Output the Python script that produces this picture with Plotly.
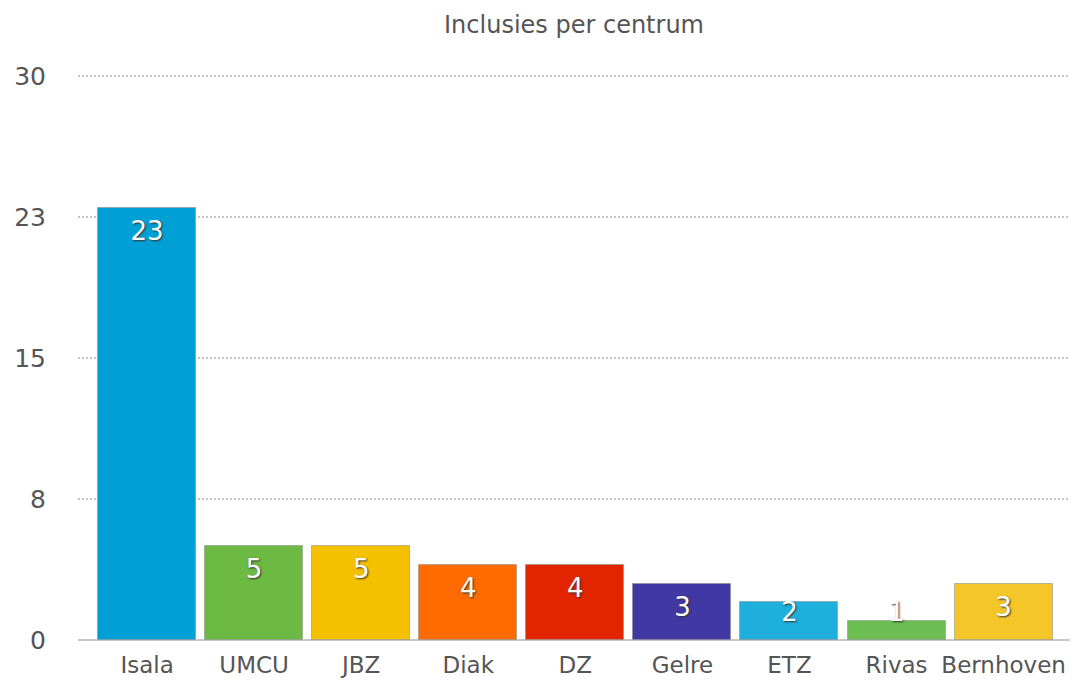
import plotly.graph_objects as go

categories = ["Isala", "UMCU", "JBZ", "Diak", "DZ", "Gelre", "ETZ", "Rivas", "Bernhoven"]
values = [23, 5, 5, 4, 4, 3, 2, 1, 3]
colors = ["#00a0d6", "#6cb943", "#f5c000", "#ff6b00", "#e22400", "#4238a3", "#1eafdd", "#6cbd52", "#f5c628"]
tick_vals = [0, 7.5, 15, 22.5, 30]
tick_text = ["0", "8", "15", "23", "30"]
title = "Inclusies per centrum"

FONT = "DejaVu Sans"

# label positions derived from values: slightly below bar top, but never lower than a floor
label_y = [max(v - 1.38, 1.33) for v in values]

fig = go.Figure()
fig.add_trace(go.Bar(
    x=categories, y=values, width=0.915,
    marker=dict(color=colors, line=dict(color="rgba(140,140,140,0.55)", width=1)),
    hoverinfo="skip", showlegend=False,
))
fig.add_trace(go.Scatter(
    x=categories, y=label_y, mode="text", text=[str(v) for v in values],
    textposition="middle center",
    textfont=dict(family=FONT, size=26, color="white", shadow="1px 1px 2px #333"),
    hoverinfo="skip", showlegend=False, cliponaxis=False,
))

fig.update_layout(
    width=1075, height=681,
    margin=dict(l=78, r=5, t=74, b=41, autoexpand=False),
    paper_bgcolor="white", plot_bgcolor="white",
    title=dict(text=title, x=0.5, xref="paper", y=1 - 25 / 681, yanchor="middle",
               font=dict(family=FONT, size=24, color="#555")),
    bargap=0,
    xaxis=dict(range=[-0.645, 8.62], showgrid=False, showline=False, ticks="",
               tickfont=dict(family=FONT, size=23, color="#555"), ticklabelstandoff=9,
               automargin=False, fixedrange=True),
    yaxis=dict(range=[0, 30.1], tickvals=tick_vals, ticktext=tick_text,
               showgrid=True, gridcolor="#c4c4c4", gridwidth=2, griddash="2px,2px",
               zeroline=True, zerolinecolor="#c8c8c8", zerolinewidth=2,
               showline=False, ticks="", ticklabelstandoff=31,
               tickfont=dict(family=FONT, size=25, color="#555"),
               automargin=False, fixedrange=True),
)

fig.write_html("out.html", config={"displayModeBar": False},
               post_script="document.body.style.margin='0';document.body.style.overflow='hidden';")
